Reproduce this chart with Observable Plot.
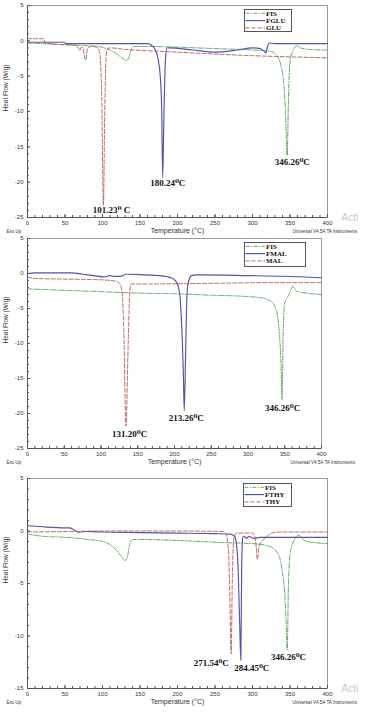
<!DOCTYPE html>
<html><head><meta charset="utf-8">
<script src="https://cdn.jsdelivr.net/npm/d3@7"></script>
<script src="https://cdn.jsdelivr.net/npm/@observablehq/plot@0.6"></script>
<style>
body{margin:0;background:#fff;}
#wrap{position:relative;width:366px;height:712px;overflow:hidden;background:#fff;}
.panel{position:absolute;left:0;}
.panel svg{background:transparent;}
</style>
</head><body><div id="wrap"></div>
<script>
// ---------- Panel 1: FIS / FGLU / GLU ----------
const p1FisT = [0, 20, 40, 60, 80, 95, 105, 115, 122, 128, 132, 135, 138, 142, 160, 200, 250, 300, 325, 333, 338, 342, 344, 346.26, 348, 350, 353, 356, 359, 364, 375, 400];
const p1FisV = [-0.3, -0.4, -0.5, -0.6, -0.7, -0.8, -1.1, -1.6, -2.1, -2.6, -2.8, -2.4, -1.3, -0.8, -0.8, -0.9, -1.1, -1.3, -1.5, -2.2, -3.5, -6.5, -10, -16.2, -8, -3, -1.6, -1.0, -0.7, -1.0, -1.2, -1.3];
const p1FgluT = [0, 48, 50, 52, 100, 150, 160, 165, 170, 174, 177, 179, 180.24, 182, 184, 186, 190, 220, 250, 280, 300, 310, 316, 318, 320, 322, 330, 400];
const p1FgluV = [-0.2, -0.2, -0.3, -0.4, -0.4, -0.4, -0.4, -0.6, -1.2, -2.5, -5, -10, -19.4, -10, -2.5, -1.0, -1.0, -1.3, -1.6, -1.3, -1.0, -1.1, -1.5, -1.7, -0.8, -0.3, -0.4, -0.4];
const p1GluT = [0, 22, 23, 40, 60, 66, 70, 72, 74, 76, 78, 80, 85, 92, 96, 99, 101.23, 103, 105, 107, 110, 130, 200, 300, 400];
const p1GluV = [0.3, 0.3, -0.3, -0.5, -0.6, -0.7, -1.4, -0.9, -1.0, -2.3, -2.7, -1.0, -0.8, -0.9, -1.5, -8, -23.3, -10, -2, -1.1, -1.0, -1.2, -1.6, -2.1, -2.4];
const p1Names = ["FIS", "FGLU", "GLU"];
const p1PeakText = ["101.23\u2070 C", "180.24\u2070C", "346.26\u2070C"];
const p1PeakX = [112, 187, 353];
const p1PeakY = [-24, -20.2, -17.1];

// ---------- Panel 2: FIS / FMAL / MAL ----------
const p2FisT = [0, 50, 100, 150, 200, 250, 300, 320, 330, 336, 340, 343, 345, 346.26, 348, 350, 353, 356, 359, 361, 364, 368, 380, 400];
const p2FisV = [-2.2, -2.4, -2.6, -2.8, -2.9, -3.1, -3.3, -3.5, -3.9, -4.6, -6, -9, -13, -18, -8, -4.2, -3.5, -3.0, -2.2, -1.8, -2.3, -2.6, -2.8, -3.0];
const p2FmalT = [0, 10, 30, 60, 75, 90, 105, 112, 118, 125, 130, 133, 140, 160, 180, 195, 200, 205, 208, 210, 212, 213.26, 215, 217, 219, 223, 230, 300, 350, 400];
const p2FmalV = [0, 0.1, 0.1, 0.1, -0.1, -0.3, -0.5, -0.3, -0.4, -0.4, -0.3, -0.1, -0.1, -0.2, -0.3, -0.6, -0.9, -1.8, -4, -8, -14, -19.6, -12, -3, -1.2, -0.3, -0.2, -0.3, -0.4, -0.6];
const p2MalT = [0, 10, 50, 100, 120, 126, 129, 131, 134, 137, 139, 141, 150, 250, 330, 400];
const p2MalV = [-0.5, -0.7, -0.8, -0.9, -1.1, -1.5, -3, -8, -21.8, -10, -3, -1.5, -1.5, -1.4, -1.3, -1.3];
const p2Names = ["FIS", "FMAL", "MAL"];
const p2PeakText = ["131.20\u2070C", "213.26\u2070C", "346.26\u2070C"];
const p2PeakX = [139, 216, 347];
const p2PeakY = [-23, -20.7, -19.3];

// ---------- Panel 3: FIS / FTHY / THY ----------
const p3FisT = [0, 20, 50, 80, 100, 110, 118, 125, 130, 132, 134, 136, 138, 145, 200, 260, 300, 320, 330, 336, 340, 343, 345, 346.26, 348, 350, 353, 356, 359, 362, 366, 372, 400];
const p3FisV = [-0.3, -0.5, -0.6, -0.8, -1.0, -1.3, -1.8, -2.4, -2.8, -2.7, -2.2, -1.3, -0.9, -0.8, -0.9, -1.1, -1.2, -1.4, -1.8, -2.5, -4, -6, -9, -11.3, -5, -2.3, -1.3, -0.8, -0.5, -0.4, -0.7, -1.0, -1.2];
const p3FthyT = [0, 20, 50, 56, 60, 64, 68, 80, 100, 150, 200, 250, 270, 276, 279, 281, 283, 284.45, 285.5, 287, 289, 292, 295, 298, 302, 310, 330, 400];
const p3FthyV = [0.5, 0.4, 0.3, 0.3, 0.2, 0.0, -0.1, -0.05, -0.1, -0.15, -0.2, -0.25, -0.3, -0.5, -1.5, -4, -9, -12.3, -4, -0.6, -0.5, -0.7, -0.5, -0.6, -0.7, -0.6, -0.6, -0.6];
const p3ThyT = [0, 50, 100, 200, 260, 265, 268, 270, 271.54, 273, 275, 278, 290, 300, 303, 305, 306.5, 308, 311, 315, 320, 325, 335, 400];
const p3ThyV = [-0.1, -0.05, 0, 0, -0.05, -0.3, -2, -7, -11.7, -5, -0.8, -0.2, -0.2, -0.2, -0.5, -1.5, -2.7, -1.8, -1.1, -0.8, -0.5, -0.2, -0.1, -0.1];
const p3Names = ["FIS", "FTHY", "THY"];
const p3PeakText = ["271.54\u2070C", "284.45\u2070C", "346.26\u2070C"];
const p3PeakX = [245, 299, 348];
const p3PeakY = [-12.6, -13.1, -12];

// ---------- axes ----------
const xTicks = [0, 50, 100, 150, 200, 250, 300, 350, 400];
const xMinor = d3.range(0, 401, 10);
const yTicksA = [5, 0, -5, -10, -15, -20, -25];
const yTicksB = [5, 0, -5, -10, -15];
const xTitle = "Temperature (\u00B0C)";
const yTitle = "Heat Flow (W/g)";

const GREEN = "#559e55", BLUE = "#5353a8", RED = "#b85555";
const styles = [
  {stroke: GREEN, dash: "4,1.5,1,1.5", width: 0.9},
  {stroke: BLUE, dash: null, width: 1.15},
  {stroke: RED, dash: "4,2", width: 0.9}
];

function rows(t, v) { return t.map((d, i) => ({t: d, v: v[i]})); }

function makePanel(o) {
  const plotW = 366 - 27 - o.mr;
  const plotH = o.height - o.mt - o.mb;
  const series = o.series;
  const peaks = o.peakText.map((s, i) => ({s, x: o.peakX[i], y: o.peakY[i]}));
  const marks = [
    Plot.frame({stroke: "#9a9a9a"}),
    Plot.ruleY([o.yDomain[0]], {stroke: "#555"}),
    Plot.ruleX([0], {stroke: "#555"}),
    Plot.tickX(xMinor, {x: d => d, insetTop: plotH - 2, stroke: "#555"}),
    Plot.tickX(xTicks, {x: d => d, insetTop: plotH - 3, stroke: "#555"}),
    Plot.tickY(d3.range(o.yDomain[0], o.yDomain[1] + 1, 1), {y: d => d, insetRight: plotW - 2, stroke: "#555"}),
    Plot.tickY(o.yTicks, {y: d => d, insetRight: plotW - 3, stroke: "#555"}),
    Plot.axisX({ticks: xTicks, tickSize: 0, tickPadding: 3, tickFormat: d => String(d), label: null, fontSize: 6, fill: "#333"}),
    Plot.axisY({ticks: o.yTicks, tickSize: 0, tickPadding: 4, tickFormat: d => String(d), label: null, fontSize: 6, fill: "#333"}),
    ...series.map((s, i) => Plot.line(rows(s.t, s.v), {x: "t", y: "v", stroke: styles[i].stroke, strokeWidth: styles[i].width, strokeDasharray: styles[i].dash, curve: "monotone-x"})),
    Plot.text(peaks, {x: "x", y: "y", text: "s", fontFamily: "Liberation Serif, DejaVu Serif, serif", fontWeight: "bold", fontSize: 9, fill: "#111"}),
    Plot.text([xTitle], {text: d => d, frameAnchor: "bottom", dy: 15, fontSize: 7, fill: "#333"}),
    Plot.text([yTitle], {text: d => d, frameAnchor: "left", dx: -22, rotate: -90, fontSize: 6.5, fill: "#333"}),
    Plot.text(["Exo Up"], {text: d => d, frameAnchor: "bottom-left", dx: -21, dy: 15, textAnchor: "start", fontSize: 4.5, fill: "#333"}),
    Plot.text(["Universal V4.5A TA Instruments"], {text: d => d, frameAnchor: "bottom-right", dx: o.uniDx, dy: 15, textAnchor: "start", fontSize: 4.6, fill: "#333"})
  ];
  if (o.watermark) marks.push(Plot.text(["Acti"], {text: d => d, frameAnchor: "bottom-right", dx: 14, dy: 3, textAnchor: "start", fontSize: 10, fill: "#c8c8c8"}));
  const svg = Plot.plot({
    width: 366, height: o.height,
    marginTop: o.mt, marginBottom: o.mb, marginLeft: 27, marginRight: o.mr,
    style: {fontFamily: "Liberation Sans, Arial, sans-serif", background: "transparent", overflow: "visible"},
    x: {domain: [0, 400], label: null},
    y: {domain: o.yDomain, label: null},
    marks
  });
  const div = document.createElement("div");
  div.className = "panel";
  div.style.top = o.top + "px";
  div.appendChild(svg);
  // legend box
  const L = o.legend;
  const ns = "http://www.w3.org/2000/svg";
  const lg = document.createElementNS(ns, "svg");
  lg.setAttribute("width", L.w); lg.setAttribute("height", L.h);
  lg.style.position = "absolute"; lg.style.left = L.x + "px"; lg.style.top = L.y + "px";
  const rect = document.createElementNS(ns, "rect");
  rect.setAttribute("x", 0.5); rect.setAttribute("y", 0.5); rect.setAttribute("width", L.w - 1); rect.setAttribute("height", L.h - 1);
  rect.setAttribute("fill", "#fff"); rect.setAttribute("stroke", "#555");
  lg.appendChild(rect);
  o.names.forEach((n, i) => {
    const yy = 4.3 + i * 7.3;
    const ln = document.createElementNS(ns, "line");
    ln.setAttribute("x1", 1.5); ln.setAttribute("x2", 21); ln.setAttribute("y1", yy); ln.setAttribute("y2", yy);
    ln.setAttribute("stroke", styles[i].stroke); ln.setAttribute("stroke-width", styles[i].width);
    if (styles[i].dash) ln.setAttribute("stroke-dasharray", styles[i].dash);
    lg.appendChild(ln);
    const tx = document.createElementNS(ns, "text");
    tx.setAttribute("x", 22); tx.setAttribute("y", yy + 2.4);
    tx.setAttribute("font-family", "Liberation Serif, DejaVu Serif, serif");
    tx.setAttribute("font-weight", "bold"); tx.setAttribute("font-size", "7");
    tx.setAttribute("fill", "#111");
    tx.textContent = n;
    lg.appendChild(tx);
  });
  div.appendChild(lg);
  document.getElementById("wrap").appendChild(div);
}

makePanel({
  top: 0, height: 238, mt: 5, mb: 21, mr: 39, yDomain: [-25, 5], yTicks: yTicksA, uniDx: -35, watermark: true,
  series: [{t: p1FisT, v: p1FisV}, {t: p1FgluT, v: p1FgluV}, {t: p1GluT, v: p1GluV}],
  names: p1Names, peakText: p1PeakText, peakX: p1PeakX, peakY: p1PeakY,
  legend: {x: 244, y: 9, w: 48, h: 23}
});
makePanel({
  top: 235, height: 235, mt: 3, mb: 22, mr: 45, yDomain: [-25, 5], yTicks: yTicksA, uniDx: -31, watermark: false,
  series: [{t: p2FisT, v: p2FisV}, {t: p2FmalT, v: p2FmalV}, {t: p2MalT, v: p2MalV}],
  names: p2Names, peakText: p2PeakText, peakX: p2PeakX, peakY: p2PeakY,
  legend: {x: 244, y: 7, w: 62, h: 25}
});
makePanel({
  top: 470, height: 242, mt: 8, mb: 24, mr: 39, yDomain: [-15, 5], yTicks: yTicksB, uniDx: -35, watermark: true,
  series: [{t: p3FisT, v: p3FisV}, {t: p3FthyT, v: p3FthyV}, {t: p3ThyT, v: p3ThyV}],
  names: p3Names, peakText: p3PeakText, peakX: p3PeakX, peakY: p3PeakY,
  legend: {x: 243, y: 13, w: 49, h: 24}
});
</script>
</body></html>
